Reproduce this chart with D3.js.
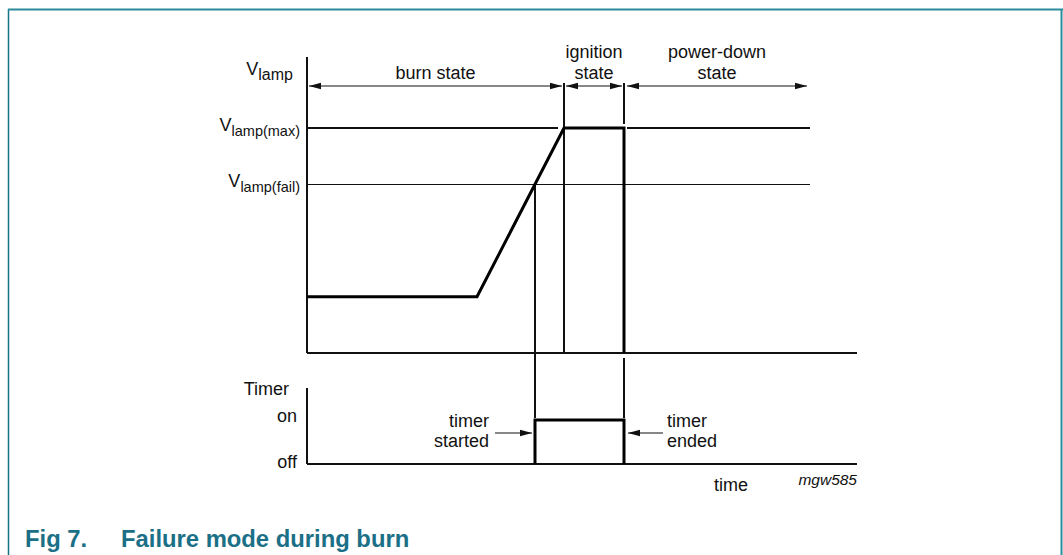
<!DOCTYPE html>
<html>
<head>
<meta charset="utf-8">
<script src="https://cdn.jsdelivr.net/npm/d3@7"></script>
<style>
  body { margin: 0; background: #fff; }
  svg text { font-family: "Liberation Sans", Arial, sans-serif; fill: #111; }
</style>
</head>
<body>
<div id="chart"></div>
<script>
// time axis in arbitrary units (0..110)
var lampTime = [0, 34, 51.4, 63.4, 63.4];
var lampLevel = [19, 19, 76, 76, 0];
var timerTime = [45.6, 45.6, 63.4, 63.4];
var timerLevel = [0, 1, 1, 0];

var levelValues = [76, 57];
var levelLabels = ["lamp(max)", "lamp(fail)"];

var stateNames = [["burn state"], ["ignition", "state"], ["power-down", "state"]];
var stateBounds = [[0.4, 51], [51.8, 63], [64, 100]];

var tFail = 45.6, tMax = 51.4, tOff = 63.4, tEnd = 100.6;

var svgWidth = 1063;
var svgHeight = 555;

var svg = d3.select("#chart")
    .append("svg")
    .attr("width", svgWidth)
    .attr("height", svgHeight);

// frame
var teal = "#2a8b9c";
svg.append("line").attr("x1", 8.5).attr("x2", 8.5).attr("y1", 9).attr("y2", 555)
    .attr("stroke", "#167487").attr("stroke-width", 1.5);
svg.append("line").attr("x1", 8).attr("x2", 1063).attr("y1", 9.5).attr("y2", 9.5)
    .attr("stroke", teal).attr("stroke-width", 2);
svg.append("line").attr("x1", 1061.5).attr("x2", 1061.5).attr("y1", 9).attr("y2", 555)
    .attr("stroke", teal).attr("stroke-width", 2);

// arrow marker
var defs = svg.append("defs");
defs.append("marker")
    .attr("id", "arr")
    .attr("viewBox", "0 0 12 8")
    .attr("refX", 12).attr("refY", 4)
    .attr("markerWidth", 12).attr("markerHeight", 8)
    .attr("markerUnits", "userSpaceOnUse")
    .attr("orient", "auto-start-reverse")
    .append("path").attr("d", "M0,0.8 L12,4 L0,7.2 Z").attr("fill", "#111");

// scales
var x = d3.scaleLinear().domain([0, 110]).range([307, 857]);
var y = d3.scaleLinear().domain([0, 100]).range([353, 57]);
var yT = d3.scaleLinear().domain([0, 1.73]).range([464, 388]);

var g = svg.append("g");

function thin(x1, y1, x2, y2, w) {
    g.append("line")
        .attr("x1", x1).attr("y1", y1).attr("x2", x2).attr("y2", y2)
        .attr("stroke", "#111").attr("stroke-width", w || 1.2)
        .attr("shape-rendering", "crispEdges");
}

function arrow(x1, x2, yy, both) {
    var l = g.append("line")
        .attr("x1", x1).attr("x2", x2)
        .attr("y1", yy).attr("y2", yy)
        .attr("stroke", "#111").attr("stroke-width", 1)
        .attr("marker-end", "url(#arr)");
    if (both) l.attr("marker-start", "url(#arr)");
}

// upper axes
thin(x(0), y(100), x(0), y(0), 1.5);
thin(x(0), y(0), x(110), y(0), 1.5);

// level lines
thin(x(0), y(levelValues[0]), x(tMax) - 6, y(levelValues[0]));
thin(x(tOff) + 3, y(levelValues[0]), x(tEnd), y(levelValues[0]));
thin(x(0), y(levelValues[1]), x(tEnd), y(levelValues[1]));

// vertical markers
thin(x(tFail), y(levelValues[1]), x(tFail), y(0) + 65);
thin(x(tMax), y(100) + 26, x(tMax), y(0));
thin(x(tOff), y(100) + 26, x(tOff), y(levelValues[0]) - 4);
thin(x(tOff), y(0) + 5, x(tOff), y(0) + 65);

// state arrows
stateBounds.forEach(function (b, i) {
    arrow(x(b[0]), x(b[1]), 86, true);
    var cx = i == 2 ? 717 : (x(b[0]) + x(b[1])) / 2;
    var lines = stateNames[i];
    lines.forEach(function (s, j) {
        g.append("text")
            .attr("x", cx)
            .attr("y", 79 - (lines.length - 1 - j) * 21)
            .attr("text-anchor", "middle")
            .attr("font-size", 18)
            .text(s);
    });
});

// lamp voltage trace
var lampLine = d3.line()
    .x(function (d) { return x(d[0]); })
    .y(function (d) { return y(d[1]); });
g.append("path")
    .attr("d", lampLine(d3.zip(lampTime, lampLevel)))
    .attr("fill", "none")
    .attr("stroke", "#000")
    .attr("stroke-width", 3)
    .attr("stroke-linejoin", "miter");

// y labels upper
function vLabel(xr, yy, sub, fs) {
    var t = g.append("text").attr("x", xr).attr("y", yy)
        .attr("text-anchor", "end").attr("font-size", 18);
    t.append("tspan").text("V");
    t.append("tspan").attr("font-size", fs).attr("dy", 5).text(sub);
}
vLabel(293, 75, "lamp", 16);
levelLabels.forEach(function (l, i) {
    vLabel(300, y(levelValues[i]) + 3, l, 14.5);
});

// lower timer plot
thin(x(0), yT(1.73), x(0), yT(0), 1.5);
thin(x(0), yT(0), x(110), yT(0), 1.5);

var timerLine = d3.line()
    .x(function (d) { return x(d[0]); })
    .y(function (d) { return yT(d[1]); });
g.append("path")
    .attr("d", timerLine(d3.zip(timerTime, timerLevel)))
    .attr("fill", "none")
    .attr("stroke", "#000")
    .attr("stroke-width", 3)
    .attr("stroke-linejoin", "miter");

g.append("text").attr("x", 289).attr("y", 395).attr("text-anchor", "end")
    .attr("font-size", 18).text("Timer");
g.append("text").attr("x", 297).attr("y", 422).attr("text-anchor", "end")
    .attr("font-size", 18).text("on");
g.append("text").attr("x", 297).attr("y", 468).attr("text-anchor", "end")
    .attr("font-size", 18).text("off");

// timer started / ended
var yMid = 433;
arrow(495, x(tFail) - 3, yMid, false);
arrow(663, x(tOff) + 4, yMid, false);
[["timer", 427], ["started", 447]].forEach(function (d) {
    g.append("text").attr("x", 489).attr("y", d[1]).attr("text-anchor", "end")
        .attr("font-size", 18).text(d[0]);
});
[["timer", 427], ["ended", 447]].forEach(function (d) {
    g.append("text").attr("x", 667).attr("y", d[1])
        .attr("font-size", 18).text(d[0]);
});

g.append("text").attr("x", 731).attr("y", 491).attr("text-anchor", "middle")
    .attr("font-size", 18).text("time");
g.append("text").attr("x", 857).attr("y", 485).attr("text-anchor", "end")
    .attr("font-size", 15.5).attr("font-style", "italic").text("mgw585");

// caption
svg.append("text").attr("x", 25).attr("y", 547)
    .attr("font-size", 23.8).attr("font-weight", "bold").style("fill", "#1b6f86")
    .text("Fig 7.");
svg.append("text").attr("x", 121).attr("y", 547)
    .attr("font-size", 23.8).attr("font-weight", "bold").style("fill", "#1b6f86")
    .text("Failure mode during burn");
</script>
</body>
</html>
